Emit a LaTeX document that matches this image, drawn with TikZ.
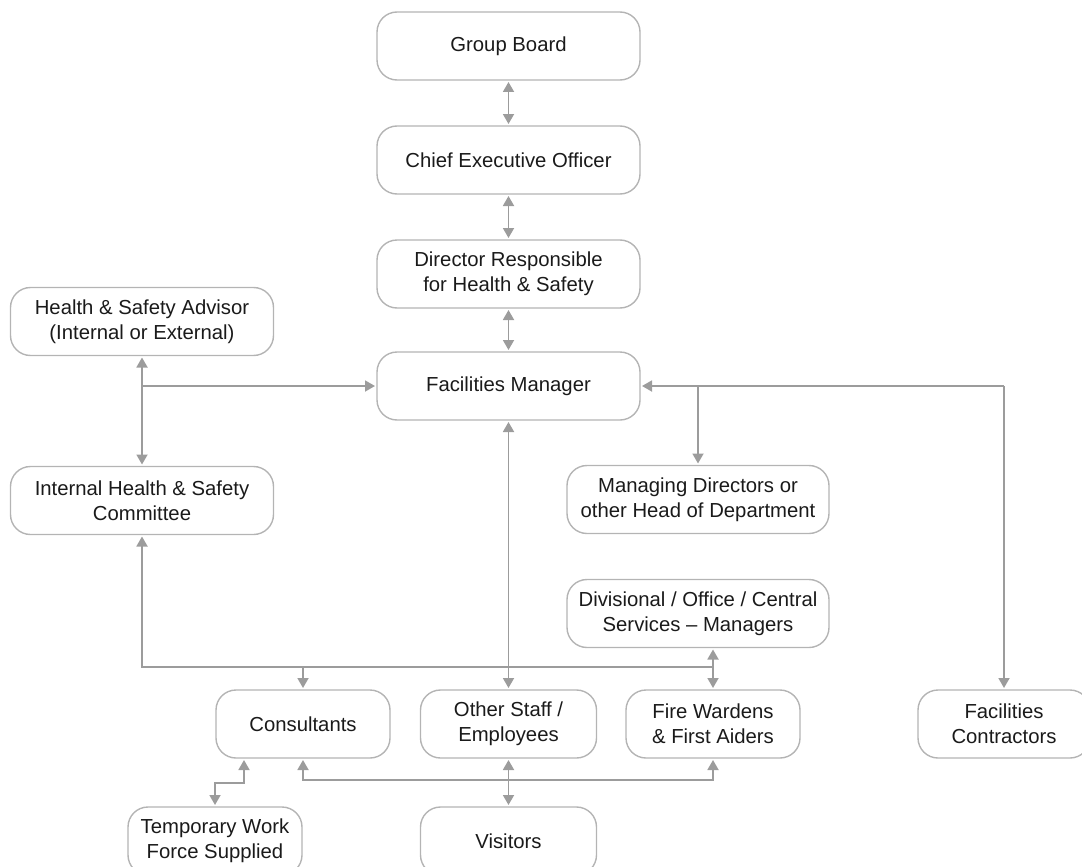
\documentclass[tikz,border=0pt]{standalone}
\usepackage{fontspec}
\setmainfont{Liberation Sans}
\usepackage{tikz}
\usetikzlibrary{positioning, arrows.meta}
\definecolor{boxgray}{HTML}{B4B4B4}
\definecolor{linkgray}{HTML}{9C9C9C}
\definecolor{inkgray}{HTML}{1A1A1A}
\tikzset{
  box/.style={draw=boxgray, line width=1.4pt, rounded corners=20pt, minimum height=68pt,
    align=center, text=inkgray, outer sep=2pt, font=\fontsize{20.3}{25}\selectfont},
  link/.style={draw=linkgray, line width=1.8pt},
}

\begin{document}
\begin{tikzpicture}[x=1pt, y=-1pt, >={Triangle[length=10pt,width=11pt]}]
\useasboundingbox (0,0) rectangle (1082,867);
% main chain
\node[box, minimum width=263pt] (board) at (508.5,46) {Group Board};
\node[box, minimum width=263pt] (ceo) at (508.5,160) {Chief Executive Officer};
\node[box, minimum width=263pt] (dir) at (508.5,274) {Director Responsible\\for Health \& Safety};
\node[box, minimum width=263pt] (fm) at (508.5,386) {Facilities Manager};
% left column
\node[box, minimum width=263pt] (adv) at (142,321.5) {Health \& Safety Advisor\\(Internal or External)};
\node[box, minimum width=263pt] (ctee) at (142,500.5) {Internal Health \& Safety\\Committee};
% right column
\node[box, minimum width=262pt] (md) at (698,499.5) {Managing Directors or\\other Head of Department};
\node[box, minimum width=262pt] (div) at (698,613.5) {Divisional / Office / Central\\Services -- Managers};
% bottom rows
\node[box, minimum width=174pt] (cons) at (303,724) {Consultants};
\node[box, minimum width=176pt] (staff) at (508.5,724) {Other Staff /\\Employees};
\node[box, minimum width=174pt] (fire) at (713,724) {Fire Wardens\\\& First Aiders};
\node[box, minimum width=172pt] (contr) at (1004,724) {Facilities\\Contractors};
\node[box, minimum width=174pt] (temp) at (215,841) {Temporary Work\\Force Supplied};
\node[box, minimum width=176pt] (vis) at (508.5,841) {Visitors};

% junctions
\coordinate (jl) at (142,386);
\coordinate (jr) at (1004,386);
\coordinate (jc) at (142,667);
\coordinate (jb) at (508.5,780);
\coordinate (jt) at (244,783);

% connectors
\draw[link,<->] (board) -- (ceo);
\draw[link,<->] (ceo) -- (dir);
\draw[link,<->] (dir) -- (fm);
\draw[link,<->] (adv) -- (ctee);
\draw[link,->] (jl) -- (fm.west);
\draw[link,->] (jr) -- (fm.east);
\draw[link,->] (jr) -- (contr.north);
\draw[link,->] (md.north |- jr) -- (md.north);
\draw[link,<->] (fm) -- (staff);
\draw[link,<-] (ctee.south) -- (jc) -- (fire.north |- jc);
\draw[link,->] (cons.north |- jc) -- (cons.north);
\draw[link,<->] (fire.north |- div.south) -- (fire.north);
\draw[link,<->] (cons.south) -- (cons.south |- jb) -- (fire.south |- jb) -- (fire.south);
\draw[link,<->] (staff) -- (vis);
\draw[link,<->] (cons.south -| jt) -- (jt) -- (temp.north |- jt) -- (temp.north);
\end{tikzpicture}
\end{document}
